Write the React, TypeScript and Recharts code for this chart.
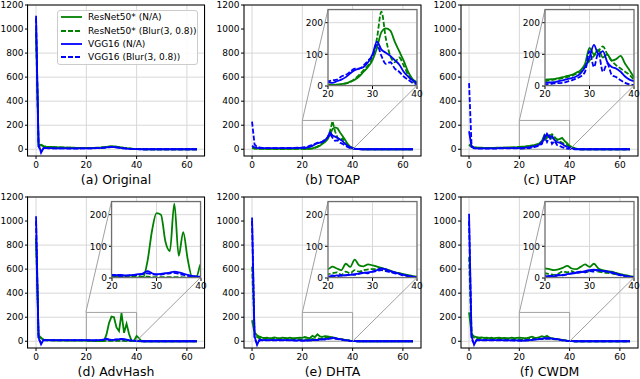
import React from 'react'
import { LineChart, Line, XAxis, YAxis, CartesianGrid, ReferenceArea, Legend } from 'recharts'

// x positions (integer steps where the curves move, then the flat tail to 64)
const xs = [
  0, 1, 2, 3, 4, 5, 6, 7, 8, 9, 10, 11, 12, 13, 14, 15, 16, 17, 18, 19,
  20, 21, 22, 23, 24, 25, 26, 27, 28, 29, 30, 31, 32, 33, 34, 35, 36, 37, 38, 39, 40,
  41, 42, 43, 44, 64,
]

// (a) Original
const originalResNet = [1000, 32, 38, 26, 22, 20, 19, 18, 17, 16, 15, 15, 14, 14, 13, 13, 12, 12, 11, 11, 11, 11, 12, 12, 13, 14, 15, 17, 19, 22, 24, 23, 21, 18, 15, 12, 9, 7, 5, 4, 3, 2, 1, 0, 0, 0]
const originalResNetBlur = [960, 28, 34, 24, 20, 19, 18, 17, 16, 15, 15, 14, 14, 13, 13, 12, 12, 11, 11, 11, 10, 11, 11, 12, 12, 13, 15, 16, 18, 21, 23, 22, 20, 17, 14, 11, 9, 7, 5, 3, 2, 1, 1, 0, 0, 0]
const originalVgg = [1110, 45, -30, 12, 10, 9, 9, 8, 8, 8, 8, 7, 7, 7, 7, 7, 7, 7, 7, 7, 8, 8, 8, 9, 9, 10, 11, 13, 15, 17, 19, 18, 16, 13, 10, 8, 6, 4, 3, 2, 1, 1, 0, 0, 0, 0]
const originalVggBlur = [1090, 25, -20, 10, 9, 8, 8, 8, 7, 7, 7, 7, 7, 6, 6, 6, 6, 6, 7, 7, 7, 7, 8, 8, 9, 9, 10, 12, 14, 16, 18, 17, 15, 12, 9, 7, 5, 4, 3, 2, 1, 0, 0, 0, 0, 0]

// (b) TOAP
const toapResNet = [15, 8, 6, 5, 5, 4, 4, 4, 3, 3, 3, 3, 3, 3, 4, 4, 4, 4, 5, 5, 5, 3, 4, 6, 8, 14, 20, 30, 45, 60, 82, 120, 170, 182, 175, 140, 110, 80, 45, 22, 12, 6, 3, 1, 0, 0]
const toapResNetBlur = [10, 6, 5, 4, 4, 3, 3, 3, 3, 3, 2, 2, 2, 3, 3, 3, 3, 3, 4, 4, 3, 2, 4, 5, 8, 12, 22, 35, 50, 65, 90, 150, 235, 150, 95, 75, 90, 65, 35, 15, 8, 4, 2, 1, 0, 0]
const toapVgg = [30, 15, 12, 10, 10, 9, 9, 9, 9, 9, 9, 9, 9, 10, 10, 10, 10, 11, 11, 12, 12, 10, 15, 20, 28, 40, 50, 55, 60, 75, 100, 140, 115, 105, 95, 82, 68, 45, 30, 18, 10, 5, 2, 1, 0, 0]
const toapVggBlur = [230, 40, 20, 15, 12, 11, 10, 10, 10, 10, 10, 10, 11, 11, 11, 12, 12, 12, 13, 13, 15, 18, 20, 30, 35, 45, 55, 55, 65, 80, 95, 130, 95, 70, 75, 55, 45, 30, 20, 10, 5, 3, 1, 0, 0, 0]

// (c) UTAP
const utapResNet = [40, 25, 18, 15, 14, 13, 12, 12, 12, 12, 12, 13, 13, 13, 14, 14, 15, 15, 16, 17, 20, 21, 22, 25, 28, 32, 35, 42, 50, 70, 120, 100, 115, 90, 100, 80, 85, 95, 70, 50, 28, 18, 10, 4, 0, 0]
const utapResNetBlur = [35, 20, 15, 13, 12, 12, 11, 11, 11, 11, 11, 12, 12, 12, 13, 13, 14, 14, 15, 15, 15, 18, 20, 22, 25, 28, 32, 38, 45, 60, 80, 95, 110, 125, 100, 80, 65, 55, 45, 35, 20, 12, 6, 2, 0, 0]
const utapVgg = [150, 20, 10, 8, 8, 8, 8, 8, 8, 8, 8, 8, 9, 9, 9, 9, 10, 10, 10, 10, 10, 11, 12, 15, 18, 22, 25, 30, 40, 60, 90, 130, 100, 110, 75, 60, 55, 45, 30, 20, 15, 8, 3, 1, 0, 0]
const utapVggBlur = [550, 30, 8, 6, 6, 6, 6, 6, 6, 6, 6, 6, 7, 7, 7, 7, 7, 8, 8, 8, 5, 6, 8, 9, 10, 14, 18, 24, 30, 45, 110, 60, 105, 45, 70, 35, 28, 18, 10, 5, 3, 1, 0, 0, 0, 0]

// (d) AdvHash
const advhashResNet = [860, 50, 30, 10, 8, 7, 7, 6, 6, 6, 6, 5, 5, 5, 5, 5, 5, 5, 5, 5, 5, 4, 3, 3, 2, 2, 1, 2, 55, 150, 205, 200, 115, 85, 235, 70, 145, 60, 4, 5, 45, 25, 0, 0, 0, 0]
const advhashResNetBlur = [850, 40, 25, 15, 12, 12, 12, 11, 10, 10, 9, 9, 8, 8, 8, 8, 8, 8, 7, 7, 7, 6, 6, 6, 5, 5, 5, 4, 4, 3, 3, 3, 3, 3, 3, 3, 2, 2, 2, 1, 1, 0, 0, 0, 0, 0]
const advhashVgg = [1040, 30, -25, 12, 10, 10, 10, 10, 10, 10, 10, 10, 10, 10, 10, 10, 10, 10, 10, 10, 10, 9, 10, 8, 9, 10, 12, 15, 22, 15, 12, 13, 15, 17, 20, 18, 14, 10, 7, 5, 4, 2, 1, 0, 0, 0]
const advhashVggBlur = [1000, 20, -15, 8, 8, 8, 8, 8, 8, 8, 8, 8, 8, 8, 8, 8, 8, 8, 8, 8, 8, 7, 6, 7, 8, 9, 10, 12, 15, 12, 10, 11, 13, 15, 16, 13, 10, 7, 5, 3, 2, 1, 0, 0, 0, 0]

// (e) DHTA
const dhtaResNet = [175, 70, 50, 38, 30, 28, 30, 25, 28, 32, 27, 25, 30, 28, 25, 30, 27, 25, 28, 30, 28, 36, 30, 25, 45, 35, 58, 40, 37, 43, 40, 36, 32, 28, 23, 18, 15, 12, 9, 6, 4, 1, 0, 0, 0, 0]
const dhtaResNetBlur = [620, 80, 35, 25, 22, 20, 22, 20, 18, 22, 20, 18, 20, 22, 18, 20, 19, 18, 17, 15, 12, 15, 18, 10, 20, 15, 25, 20, 25, 27, 28, 28, 30, 25, 20, 18, 15, 10, 8, 5, 3, 1, 0, 0, 0, 0]
const dhtaVgg = [1030, 40, -30, 15, 10, 10, 10, 10, 10, 10, 10, 10, 9, 9, 9, 9, 8, 8, 8, 7, 5, 6, 8, 7, 9, 10, 12, 14, 16, 18, 20, 25, 30, 27, 22, 18, 14, 10, 7, 4, 2, 1, 0, 0, 0, 0]
const dhtaVggBlur = [1000, 25, -20, 10, 8, 8, 8, 8, 8, 8, 8, 7, 7, 7, 7, 7, 7, 6, 6, 6, 6, 8, 5, 10, 8, 12, 10, 14, 18, 15, 20, 22, 25, 22, 18, 15, 12, 8, 6, 3, 2, 1, 0, 0, 0, 0]

// (f) CWDM
const cwdmResNet = [240, 60, 40, 35, 30, 32, 28, 30, 27, 29, 25, 28, 30, 26, 28, 25, 27, 30, 26, 28, 30, 28, 25, 27, 32, 38, 30, 28, 35, 43, 35, 45, 30, 25, 22, 20, 16, 12, 9, 6, 4, 1, 0, 0, 0, 0]
const cwdmResNetBlur = [700, 60, 30, 22, 20, 22, 18, 20, 22, 19, 20, 18, 20, 17, 19, 20, 18, 16, 18, 17, 15, 12, 10, 14, 20, 18, 22, 15, 20, 18, 22, 25, 20, 18, 16, 15, 12, 10, 8, 5, 3, 1, 0, 0, 0, 0]
const cwdmVgg = [1060, 40, -30, 12, 10, 10, 10, 10, 10, 9, 9, 9, 9, 9, 8, 8, 8, 8, 8, 7, 5, 6, 5, 8, 10, 12, 14, 16, 18, 22, 25, 26, 25, 22, 20, 18, 14, 10, 7, 4, 2, 1, 0, 0, 0, 0]
const cwdmVggBlur = [1000, 20, -20, 8, 8, 8, 8, 8, 8, 8, 7, 7, 7, 7, 7, 7, 7, 7, 6, 6, 8, 6, 8, 10, 8, 12, 15, 18, 20, 18, 22, 20, 24, 22, 20, 16, 12, 8, 5, 3, 2, 1, 0, 0, 0, 0]

const mainXTicks = [0, 20, 40, 60]
const mainYTicks = [0, 200, 400, 600, 800, 1000, 1200]
const insetXTicks = [20, 30, 40]
const insetYTicks = [0, 100, 200]

const SERIES = [
  { key: 'resnet', name: 'ResNet50* (N/A)', color: '#008000', dash: undefined },
  { key: 'resnetBlur', name: 'ResNet50* (Blur(3, 0.8))', color: '#008000', dash: '5 2' },
  { key: 'vgg', name: 'VGG16 (N/A)', color: '#0000ff', dash: undefined },
  { key: 'vggBlur', name: 'VGG16 (Blur(3, 0.8))', color: '#0000ff', dash: '5 2' },
]

const PANELS = [
  { title: '(a) Original', col: 0, row: 0, inset: false, legend: true, values: [originalResNet, originalResNetBlur, originalVgg, originalVggBlur] },
  { title: '(b) TOAP', col: 1, row: 0, inset: true, legend: false, values: [toapResNet, toapResNetBlur, toapVgg, toapVggBlur] },
  { title: '(c) UTAP', col: 2, row: 0, inset: true, legend: false, values: [utapResNet, utapResNetBlur, utapVgg, utapVggBlur] },
  { title: '(d) AdvHash', col: 0, row: 1, inset: true, legend: false, values: [advhashResNet, advhashResNetBlur, advhashVgg, advhashVggBlur] },
  { title: '(e) DHTA', col: 1, row: 1, inset: true, legend: false, values: [dhtaResNet, dhtaResNetBlur, dhtaVgg, dhtaVggBlur] },
  { title: '(f) CWDM', col: 2, row: 1, inset: true, legend: false, values: [cwdmResNet, cwdmResNetBlur, cwdmVgg, cwdmVggBlur] },
]

// layout
const FONT = 'DejaVu Sans, sans-serif'
const COL_X = [27.5, 244, 461]
const ROW_Y = [5, 197]
const TITLE_Y = [180, 372]
const PLOT_W = 177
const PLOT_H = 151
const Y_AXIS_W = 34
const MAIN_X: [number, number] = [-3.2, 67.2]
const MAIN_Y: [number, number] = [-56, 1200]
const INSET_X: [number, number] = [20, 40]
const INSET_Y: [number, number] = [0, 240]
const INSET_DX = 84
const INSET_DY = 4.5
const INSET_W = 89
const INSET_H = 76
const GRID = '#d8d8d8'

const tickStyle = { fontSize: 9, fill: '#000', fontFamily: FONT }

function buildRows(values: number[][]) {
  return xs.map((x, i) => {
    const row: Record<string, number> = { x }
    SERIES.forEach((s, k) => {
      row[s.key] = values[k][i]
    })
    return row
  })
}

const mainPx = (col: number, row: number, x: number, y: number) => ({
  x: COL_X[col] + ((x - MAIN_X[0]) / (MAIN_X[1] - MAIN_X[0])) * PLOT_W,
  y: ROW_Y[row] + ((MAIN_Y[1] - y) / (MAIN_Y[1] - MAIN_Y[0])) * PLOT_H,
})

const renderLegend = () => (
  <div
    style={{
      width: 141,
      height: 55,
      boxSizing: 'border-box',
      border: '1px solid #cccccc',
      borderRadius: 3,
      background: 'rgba(255,255,255,0.85)',
      padding: '0 0 0 3px',
      fontFamily: FONT,
      fontSize: 9,
    }}
  >
    {SERIES.map((s) => (
      <div key={s.key} style={{ display: 'flex', alignItems: 'center', height: 13.4 }}>
        <svg width={21} height={6} style={{ marginRight: 6, flex: 'none' }}>
          <line x1={0} x2={21} y1={3} y2={3} stroke={s.color} strokeWidth={1.8} strokeDasharray={s.dash} />
        </svg>
        <span style={{ whiteSpace: 'nowrap' }}>{s.name}</span>
      </div>
    ))}
  </div>
)

function MainChart({ panel }: { panel: (typeof PANELS)[number] }) {
  const rows = buildRows(panel.values)
  return (
    <div style={{ position: 'absolute', left: COL_X[panel.col] - Y_AXIS_W, top: ROW_Y[panel.row] - 5 }}>
      <LineChart
        width={Y_AXIS_W + PLOT_W + 2}
        height={5 + PLOT_H + 20}
        data={rows}
        margin={{ top: 5, right: 2, bottom: 0, left: 0 }}
      >
        <CartesianGrid stroke={GRID} />
        <XAxis
          type="number"
          dataKey="x"
          domain={MAIN_X}
          ticks={mainXTicks}
          allowDataOverflow
          height={20}
          axisLine={false}
          tickLine={{ stroke: '#000' }}
          tickSize={3}
          tickMargin={3}
          tick={tickStyle}
        />
        <YAxis
          type="number"
          domain={MAIN_Y}
          ticks={mainYTicks}
          allowDataOverflow
          width={Y_AXIS_W}
          axisLine={false}
          tickLine={{ stroke: '#000' }}
          tickSize={3}
          tickMargin={1.5}
          tick={tickStyle}
        />
        {panel.inset && (
          <ReferenceArea x1={INSET_X[0]} x2={INSET_X[1]} y1={INSET_Y[0]} y2={INSET_Y[1]} fill="none" stroke="#a0a0a0" strokeWidth={1} />
        )}
        {SERIES.map((s) => (
          <Line
            key={s.key}
            dataKey={s.key}
            name={s.name}
            type="linear"
            stroke={s.color}
            strokeWidth={1.8}
            strokeDasharray={s.dash}
            dot={false}
            isAnimationActive={false}
          />
        ))}
        {panel.legend && (
          <Legend
            layout="vertical"
            align="center"
            verticalAlign="middle"
            wrapperStyle={{ left: Y_AXIS_W + 29.5, top: 9.5, width: 141, height: 55 }}
            content={renderLegend}
          />
        )}
      </LineChart>
    </div>
  )
}

function InsetChart({ panel }: { panel: (typeof PANELS)[number] }) {
  const rows = buildRows(panel.values)
  const left = COL_X[panel.col] + INSET_DX
  const top = ROW_Y[panel.row] + INSET_DY
  return (
    <div style={{ position: 'absolute', left: left - 26, top: top - 3 }}>
      <LineChart width={26 + INSET_W + 8} height={3 + INSET_H + 16} data={rows} margin={{ top: 3, right: 8, bottom: 0, left: 0 }}>
        <CartesianGrid stroke={GRID} fill="#ffffff" fillOpacity={1} />
        <XAxis
          type="number"
          dataKey="x"
          domain={INSET_X}
          ticks={insetXTicks}
          allowDataOverflow
          height={16}
          axisLine={false}
          tickLine={{ stroke: '#000' }}
          tickSize={3}
          tickMargin={2}
          tick={tickStyle}
        />
        <YAxis
          type="number"
          domain={INSET_Y}
          ticks={insetYTicks}
          allowDataOverflow
          width={26}
          axisLine={false}
          tickLine={{ stroke: '#000' }}
          tickSize={3}
          tickMargin={2}
          tick={tickStyle}
        />
        {SERIES.map((s) => (
          <Line
            key={s.key}
            dataKey={s.key}
            type="monotone"
            stroke={s.color}
            strokeWidth={1.8}
            strokeDasharray={s.dash}
            dot={false}
            isAnimationActive={false}
          />
        ))}
      </LineChart>
    </div>
  )
}

export default function App() {
  return (
    <div style={{ position: 'absolute', left: 0, top: 0, width: 640, height: 379, background: '#fff', fontFamily: FONT, overflow: 'hidden' }}>
      {PANELS.map((p) => (
        <MainChart key={p.title} panel={p} />
      ))}
      {PANELS.filter((p) => p.inset).map((p) => (
        <InsetChart key={p.title} panel={p} />
      ))}
      {PANELS.map((p) => (
        <div
          key={p.title}
          style={{
            position: 'absolute',
            left: COL_X[p.col],
            width: PLOT_W,
            top: TITLE_Y[p.row] - 8,
            height: 16,
            lineHeight: '16px',
            textAlign: 'center',
            fontSize: 12.5,
            color: '#000',
            whiteSpace: 'nowrap',
          }}
        >
          {p.title}
        </div>
      ))}
      <svg width={640} height={379} style={{ position: 'absolute', left: 0, top: 0, pointerEvents: 'none' }}>
        {PANELS.map((p) => {
          const px = COL_X[p.col]
          const py = ROW_Y[p.row]
          const ix = px + INSET_DX
          const iy = py + INSET_DY
          const a = mainPx(p.col, p.row, INSET_X[0], INSET_Y[1])
          const b = mainPx(p.col, p.row, INSET_X[1], INSET_Y[0])
          return (
            <g key={p.title}>
              <rect x={px} y={py} width={PLOT_W} height={PLOT_H} fill="none" stroke="#000" strokeWidth={1} />
              {p.inset && (
                <>
                  <line x1={a.x} y1={a.y} x2={ix} y2={iy} stroke="#a0a0a0" strokeWidth={1} />
                  <line x1={b.x} y1={b.y} x2={ix + INSET_W} y2={iy + INSET_H} stroke="#a0a0a0" strokeWidth={1} />
                  <rect x={ix} y={iy} width={INSET_W} height={INSET_H} fill="none" stroke="#6e6e6e" strokeWidth={1.2} />
                </>
              )}
            </g>
          )
        })}
      </svg>
    </div>
  )
}
